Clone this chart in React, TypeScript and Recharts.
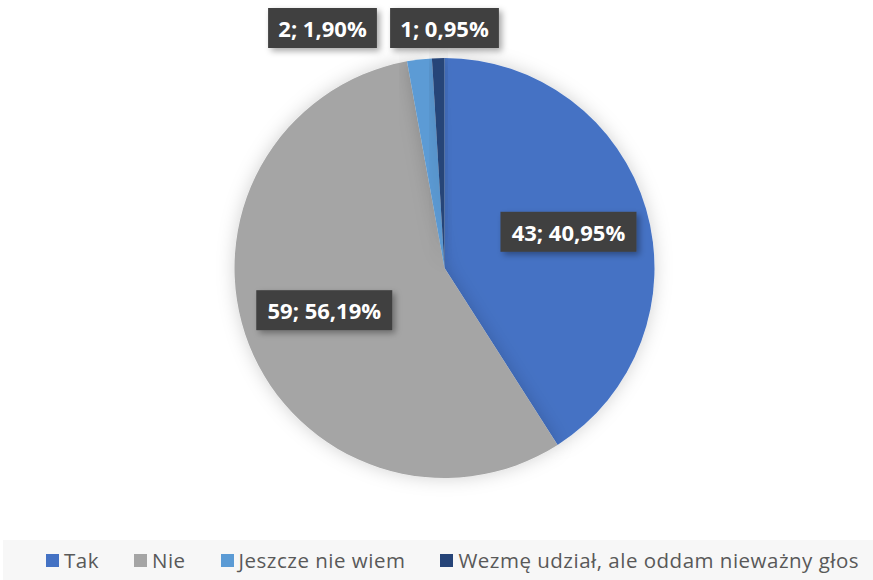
import React from 'react';
import { PieChart, Pie, Cell, Legend } from 'recharts';

const categories = ['Tak', 'Nie', 'Jeszcze nie wiem', 'Wezmę udział, ale oddam nieważny głos'];
const counts = [43, 59, 2, 1];
const sliceColors = ['#4472C4', '#A5A5A5', '#5B9BD5', '#264478'];

const pieData = categories.map((name, i) => ({ name, value: counts[i] }));

const RAD = Math.PI / 180;
const total = counts.reduce((a, b) => a + b, 0);
const smallIdx = counts.map((c, i) => (c / total < 0.05 ? i : -1)).filter(i => i >= 0);

const renderLabel = (props: any) => {
  const { cx, cy, midAngle, outerRadius, percent, value, index } = props;
  const text = `${value}; ${(percent * 100).toFixed(2).replace('.', ',')}%`;
  const w = text.length * 13.6;
  const h = 40;
  let x: number;
  let y: number;
  if (percent < 0.05) {
    // small slices sit above the pie, side by side, last one at the top centre
    const after = smallIdx.filter(i => i > index).length;
    x = cx - after * 122;
    y = cy - outerRadius - 30;
  } else {
    const r = outerRadius * 0.615;
    x = cx + r * Math.cos(-midAngle * RAD);
    y = cy + r * Math.sin(-midAngle * RAD) - (midAngle < 0 ? 5 : 0);
  }
  return (
    <g>
      <rect x={x - w / 2} y={y - h / 2} width={w} height={h} fill="#404040" filter="url(#lblShadow)" />
      <text x={x} y={y} textAnchor="middle" dominantBaseline="central" fill="#ffffff"
        fontFamily="'Open Sans', sans-serif" fontWeight={700} fontSize={22}>
        {text}
      </text>
    </g>
  );
};

const renderLegend = () => (
  <div style={{
    position: 'absolute', left: 3, top: 0, width: 870, height: 40, background: '#f7f7f7',
    display: 'flex', alignItems: 'center', paddingLeft: 43, boxSizing: 'border-box',
    fontFamily: "'Open Sans', sans-serif", fontSize: 20.5, letterSpacing: 0.5,
    color: '#595959', whiteSpace: 'nowrap'
  }}>
    {categories.map((c, i) => (
      <div key={c} style={{ display: 'flex', alignItems: 'center', marginRight: 35, flexShrink: 0 }}>
        <span style={{ width: 13, height: 13, background: sliceColors[i], marginRight: 5, display: 'inline-block' }} />
        <span>{c}</span>
      </div>
    ))}
  </div>
);

export default function App() {
  return (
    <div style={{ position: 'absolute', left: 0, top: 0, width: 873, height: 580, background: '#ffffff' }}>
      <svg width={0} height={0} style={{ position: 'absolute' }}>
        <defs>
          <filter id="pieShadow" x="-20%" y="-20%" width="140%" height="140%">
            <feDropShadow dx="0" dy="0" stdDeviation="9" floodColor="#000" floodOpacity="0.18" />
          </filter>
          <filter id="lblShadow" x="-20%" y="-30%" width="150%" height="170%">
            <feDropShadow dx="3" dy="3" stdDeviation="3" floodColor="#000" floodOpacity="0.35" />
          </filter>
        </defs>
      </svg>
      <PieChart width={873} height={580} margin={{ top: 0, right: 0, bottom: 0, left: 0 }}>
        <Pie
          data={pieData}
          dataKey="value"
          nameKey="name"
          cx={444.5}
          cy={268}
          outerRadius={210}
          startAngle={90}
          endAngle={-270}
          stroke="none"
          label={renderLabel}
          labelLine={false}
          isAnimationActive={false}
          style={{ filter: 'url(#pieShadow)' }}
        >
          {pieData.map((d, i) => (
            <Cell key={d.name} fill={sliceColors[i]} />
          ))}
        </Pie>
        <Legend content={renderLegend} wrapperStyle={{ left: 0, top: 540, width: 873, height: 40 }} />
      </PieChart>
    </div>
  );
}
